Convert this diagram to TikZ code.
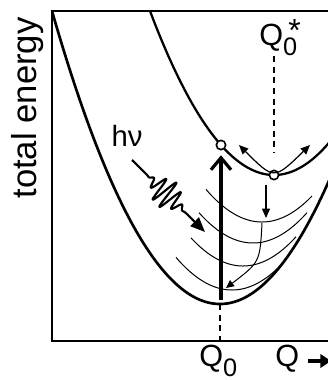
\documentclass[tikz,border=0pt]{standalone}
\usepackage{fontspec}
\setmainfont{Liberation Sans}
\usetikzlibrary{arrows.meta}
\begin{document}
\begin{tikzpicture}[x=0.75pt,y=-0.75pt,
  frame/.style={line width=2.2pt},
  ground/.style={line width=2.0pt},
  upper/.style={line width=1.7pt},
  thinc/.style={line width=0.75pt},
  dashl/.style={line width=1.0pt, dash pattern=on 4.5pt off 3.5pt},
  exc/.style={line width=2.4pt, -{Straight Barb[length=9pt,width=15pt]}},
  thinarrow/.style={line width=0.9pt},
  circ/.style={circle, draw, fill=white, line width=1.2pt, minimum size=7pt, inner sep=0pt},
  big/.style={font=\fontsize{23}{23}\selectfont}
]
\useasboundingbox (0,0) rectangle (328,380);
\begin{scope}
\clip (0,0) rectangle (328,380);
% frame
\coordinate (corner) at (52,11);
\coordinate (topR) at (332,11);
\coordinate (origin) at (52,341);
\coordinate (botR) at (332,341);
\draw[frame, line join=miter] (topR) -- (corner) -- (origin) -- (botR);

% thin vibrational curves
\draw[thinc] plot[domain=206:312, samples=60, smooth] (\x, {222-104*((\x-262)/100)^2});
\draw[thinc] plot[domain=199:307, samples=60, smooth] (\x, {243-104*((\x-253)/100)^2});
\draw[thinc] plot[domain=191:296, samples=60, smooth] (\x, {266-104*((\x-243)/100)^2});
\draw[thinc] plot[domain=176:283, samples=60, smooth] (\x, {290-104*((\x-232)/100)^2});

% potential curves
\draw[ground] plot[domain=52:332, samples=140, smooth] (\x, {304-103.81*((\x-220)/100)^2});
\draw[upper] plot[domain=150:332, samples=100, smooth] (\x, {175-106.66*((\x-274)/100)^2});

% dashed lines
\coordinate (qsTop) at (274,56);
\coordinate (qsBot) at (274,153);
\draw[dashl] (qsTop) -- (qsBot);
\coordinate (qTop) at (220,304);
\coordinate (qBot) at (220,341);
\draw[dashl] (qTop) -- (qBot);

% circles
\node[circ] (c1) at (221,145) {};
\node[circ] (c2) at (274,175) {};

% excitation arrow
\coordinate (vbot) at (221,300);
\draw[exc] (vbot) -- ([yshift=-3.6pt]c1.south);

% oscillation double arrow
\coordinate (dl) at (239,145);
\coordinate (dr) at (310,145);
\draw[thinarrow, {Triangle[length=7pt,width=6pt]}-{Triangle[length=7pt,width=6pt]}] (dl) .. controls (274,180) .. (dr);

% relaxation arrows
\coordinate (sa) at (266,185);
\coordinate (sb) at (266,218);
\draw[thinarrow, -{Triangle[length=7pt,width=6pt]}] (sa) -- (sb);
\coordinate (ca) at (262,223);
\coordinate (cb) at (226,288);
\draw[line width=0.75pt, -{Triangle[length=6pt,width=5.5pt]}] (ca) .. controls (260,262) .. (cb);

% photon
\coordinate (ws) at (132,160);
\coordinate (wa) at ({132+0.712*20},{160+0.702*20});
\coordinate (we) at ({132+0.712*76},{160+0.702*76});
\coordinate (wt) at (205,232);
\draw[line width=1.6pt, line join=round] (ws) -- (wa) plot[domain=20:76, samples=300, smooth]
  ({132+0.712*\x-0.702*(15*(sin(3.214*(\x-20)))^2*sin(36*(\x-20)))},
   {160+0.702*\x+0.712*(15*(sin(3.214*(\x-20)))^2*sin(36*(\x-20)))});
\draw[line width=1.6pt, -{Triangle[length=11pt,width=9pt]}] (we) -- (wt);

% Q arrow
\coordinate (qa) at (308,361);
\coordinate (qb) at (331,361);
\draw[line width=3.6pt, -{Triangle[length=8pt,width=10pt]}] (qa) -- (qb);
\end{scope}

% labels
\node[rotate=90, font=\fontsize{26}{26}\selectfont] (ylab) at (28,108) {total energy};
\node[font=\fontsize{22}{22}\selectfont, anchor=base] (hnu) at (127,146) {hν};
\node[big, anchor=base west, inner sep=0pt] (q0) at (199,366) {Q\raisebox{-7.5pt}{\fontsize{19}{19}\selectfont 0}};
\node[big, anchor=base west, inner sep=0pt] (q) at (275,366) {Q};
\node[big, anchor=base west, inner sep=0pt] (q0s) at (259,45) {Q\rlap{\raisebox{2.5pt}{\fontsize{24}{24}\selectfont\,*}}\raisebox{-7.5pt}{\fontsize{19}{19}\selectfont 0}};
\end{tikzpicture}
\end{document}
